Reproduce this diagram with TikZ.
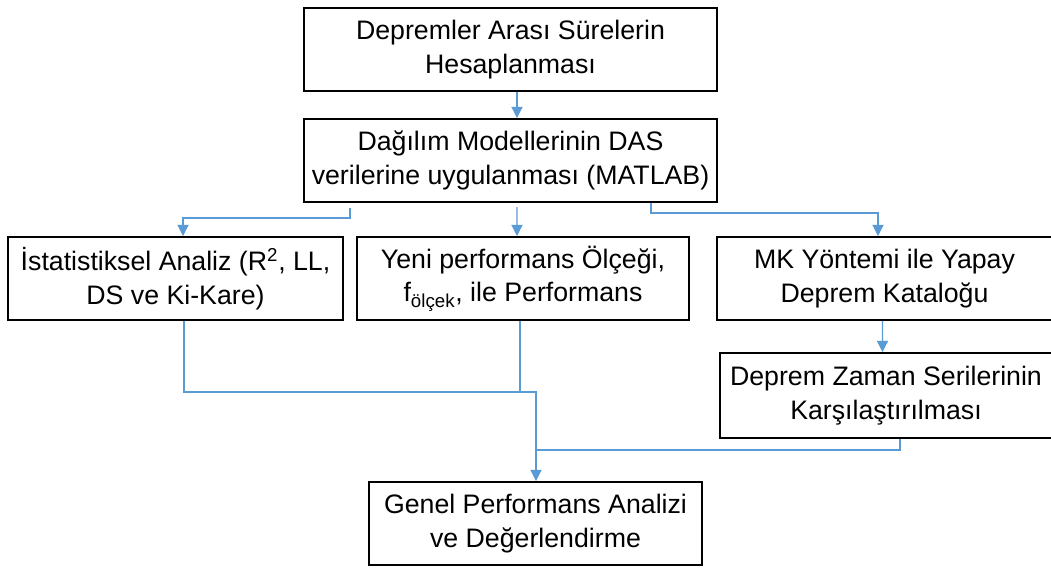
\documentclass[tikz,border=0pt]{standalone}
\usepackage{fontspec}
\setmainfont{Liberation Sans}
\usetikzlibrary{arrows.meta,positioning,calc}
\definecolor{cizgi}{RGB}{91,155,213}
\tikzset{
  kutu/.style={draw,line width=1.4pt,minimum height=2.075cm,inner sep=0pt,
    align=center,font=\fontsize{19}{24}\selectfont},
  hat/.style={draw=cizgi,line width=0.8pt},
  ok/.style={hat,-{Triangle[width=8pt,length=8pt]}},
}
\begin{document}
\begin{tikzpicture}[x=0.025cm,y=-0.025cm]
  \useasboundingbox (0,0) rectangle (1051,568);
  \node[kutu,minimum width=10.325cm] (sure) at (510.5,49.5)
    {Depremler Arası Sürelerin\\Hesaplanması};
  \node[kutu,minimum width=10.325cm] (das) at (510.5,160.5)
    {Dağılım Modellerinin DAS\\verilerine uygulanması (MATLAB)};
  \node[kutu,minimum width=8.375cm] (ist) at (175.5,278.5)
    {İstatistiksel Analiz (R\textsuperscript{2}, LL,\\DS ve Ki-Kare)};
  \node[kutu,minimum width=8.3cm] (yeni) at (523,278.5)
    {Yeni performans Ölçeği,\\f\textsubscript{ölçek}, ile Performans};
  \node[kutu,minimum width=8.375cm] (mk) at (884.5,278.5)
    {MK Yöntemi ile Yapay\\Deprem Kataloğu};
  \node[kutu,minimum width=8.3cm,minimum height=2.125cm] (zaman) at (886,395.5)
    {Deprem Zaman Serilerinin\\Karşılaştırılması};
  \node[kutu,minimum width=8.325cm] (genel) at (535.5,523.5)
    {Genel Performans Analizi\\ve Değerlendirme};
  % baglantilar
  \draw[ok] ($(sure.south)+(6.5,0)$) -- ($(das.north)+(6.5,0)$);
  \draw[ok] ($(das.south)+(-160.5,5)$) -- ++(0,10) -| ($(ist.north)+(7.5,0)$);
  \draw[ok] ($(das.south)+(6.5,4)$) -- ($(yeni.north)+(-6,0)$);
  \draw[ok] ($(das.south)+(140.5,0)$) -- ++(0,10) -| ($(mk.north)+(-6.5,0)$);
  \draw[ok] ($(mk.south)+(-2,0)$) -- ($(zaman.north)+(-3.5,0)$);
  \coordinate (birles) at ($(genel.north)+(0.5,-89)$);
  \draw[ok] ($(ist.south)+(8.5,0)$) |- (birles) -- ($(genel.north)+(0.5,0)$);
  \draw[hat] ($(yeni.south)+(-3,0)$) coordinate (y1) -- (y1 |- birles);
  \draw[hat] ($(zaman.south)+(14,0)$) |- ($(birles)+(0,58)$);
\end{tikzpicture}
\end{document}
